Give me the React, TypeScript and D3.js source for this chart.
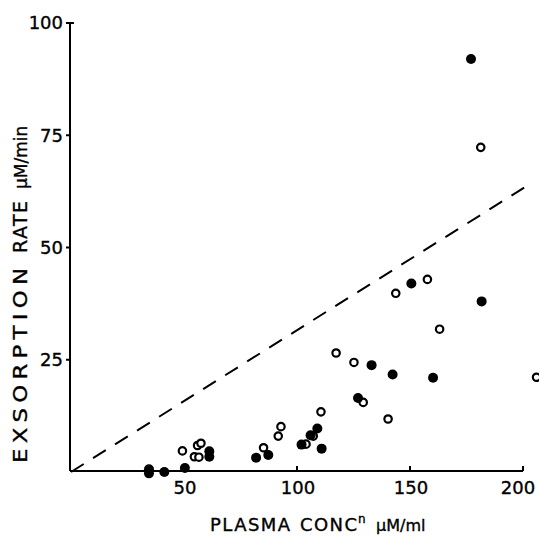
import React from "react";
import * as d3 from "d3";

// Filled circles (x = plasma conc µM/ml, y = exsorption rate µM/min)
const filledX = [177, 150.6, 181.7, 133, 142.3, 160.2, 127, 109, 106, 102, 110.9, 87.3, 81.9, 61.2, 61.2, 50.4, 41.3, 34.5, 34.5];
const filledY = [92, 42, 38, 23.8, 21.7, 21, 16.5, 9.7, 8.2, 6.1, 5.2, 3.8, 3.2, 4.6, 3.4, 0.9, 0, 0.6, -0.3];

// Open circles
const openX = [181.3, 157.7, 143.7, 163.1, 117.3, 125.2, 206, 129.3, 140.3, 110.6, 104, 107.2, 92.9, 91.7, 85.2, 49.3, 56, 57.5, 54.6, 56.6];
const openY = [72.3, 42.9, 39.8, 31.8, 26.5, 24.4, 21.1, 15.5, 11.8, 13.4, 6.2, 8.0, 10.1, 8.0, 5.4, 4.7, 5.9, 6.4, 3.4, 3.3];

// Dashed reference line endpoints
const lineX = [0, 202];
const lineY = [0, 63.8];

const xTicks = [50, 100, 150, 200];
const yTicks = [25, 50, 75, 100];

const FONT = "'DejaVu Sans', 'Liberation Sans', sans-serif";

export default function App() {
  const W = 539;
  const H = 541;
  const x = d3.scaleLinear().domain([0, 200]).range([71, 523]);
  const y = d3.scaleLinear().domain([0, 100]).range([472, 23]);

  const line = d3
    .line<number>()
    .x((_, i) => x(lineX[i]))
    .y((_, i) => y(lineY[i]));

  const x0 = x(0) - 1;
  const y0 = y(0) - 1;
  const ink = { fill: "#000", stroke: "#000", strokeWidth: 0.35 };
  const sx = 1.2;

  return (
    <svg
      width={W}
      height={H}
      style={{ position: "absolute", left: 0, top: 0, background: "#fff" }}
      fontFamily={FONT}
    >
      <rect x={0} y={0} width={W} height={H} fill="#fff" />
      {/* axes */}
      <line x1={x0} y1={y(100)} x2={x0} y2={y0} stroke="#000" strokeWidth={2} />
      <line x1={x0} y1={y0} x2={x(200)} y2={y0} stroke="#000" strokeWidth={2} />
      <line x1={x0} y1={y(100)} x2={x0 + 4} y2={y(100)} stroke="#000" strokeWidth={2} />

      {yTicks.map((t) => (
        <g key={"y" + t}>
          <line x1={x0 - 4} y1={y(t)} x2={x0 + 1} y2={y(t)} stroke="#000" strokeWidth={2} />
          <text x={63} y={y(t)} dy="0.36em" textAnchor="end" fontSize={18} {...ink}>
            {t}
          </text>
        </g>
      ))}

      {xTicks.map((t) => (
        <g key={"x" + t}>
          <line x1={x(t)} y1={y0} x2={x(t)} y2={y0 - 5} stroke="#000" strokeWidth={2} />
          <text
            x={Math.min(x(t) + 1, W - 21)}
            y={494}
            textAnchor="middle"
            fontSize={18}
            {...ink}
          >
            {t}
          </text>
        </g>
      ))}

      {/* dashed line */}
      <path d={line(lineX) || ""} fill="none" stroke="#000" strokeWidth={2} strokeDasharray="15 11" />

      {/* open points */}
      {openX.map((v, i) => (
        <circle key={"o" + i} cx={x(v)} cy={y(openY[i])} r={3.7} fill="#fff" stroke="#000" strokeWidth={2.2} />
      ))}
      {/* filled points */}
      {filledX.map((v, i) => (
        <circle key={"f" + i} cx={x(v)} cy={y(filledY[i])} r={5} fill="#000" />
      ))}

      {/* x title */}
      <g fontSize={18} {...ink}>
        <text x={210} y={531} textLength={80} lengthAdjust="spacing">PLASMA</text>
        <text x={300} y={531} textLength={57} lengthAdjust="spacing">CONC</text>
        <text x={358} y={523} fontSize={12}>n</text>
        <text x={376} y={531} fontSize={16}>μM/ml</text>
      </g>

      {/* y title */}
      <g fontSize={19} {...ink}>
        <text transform={`translate(27,463) rotate(-90) scale(${sx},1)`} textLength={195 / sx} lengthAdjust="spacing">EXSORPTION</text>
        <text transform={`translate(27,253) rotate(-90)`} textLength={52} lengthAdjust="spacing">RATE</text>
        <text transform={`translate(27,189) rotate(-90)`} fontSize={17}>μM/min</text>
      </g>
    </svg>
  );
}
